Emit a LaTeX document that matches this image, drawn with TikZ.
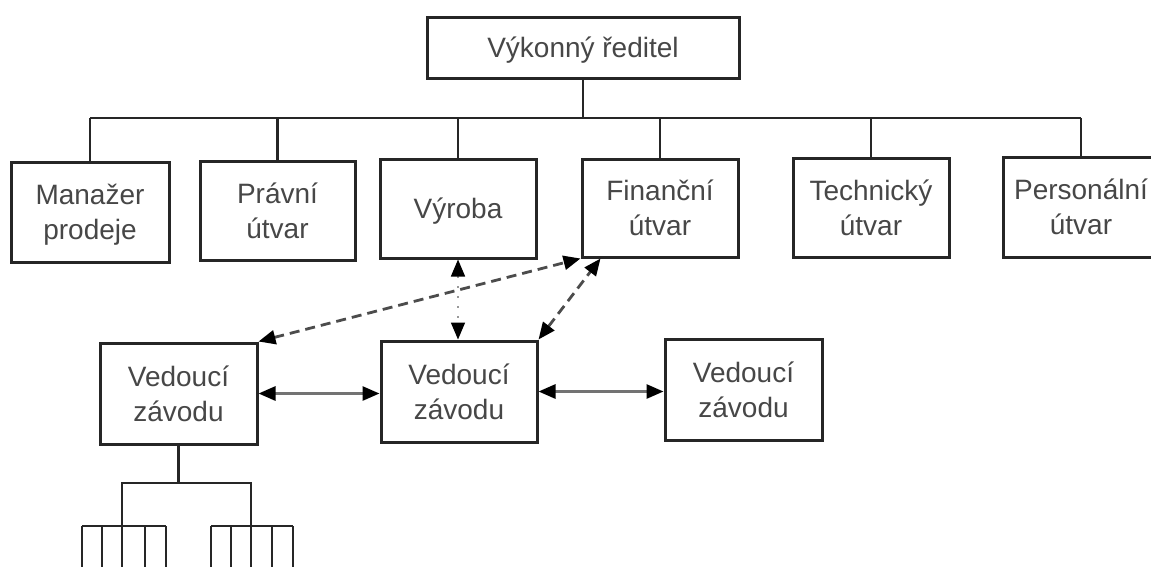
\documentclass[tikz,border=0pt]{standalone}
\usepackage{fontspec}
\setmainfont{Liberation Sans}
\usetikzlibrary{arrows.meta}
\begin{document}
\begin{tikzpicture}[x=1pt,y=-1pt,
  >={Triangle[length=17pt,width=14pt,color=black]},
  unit/.style={draw=black!85, line width=3pt, fill=white, align=center,
    inner sep=0pt, text depth=0pt, font=\fontsize{28}{35}\selectfont, text=black!72},
  link/.style={line width=2.6pt, draw=black!85},
  dashlink/.style={line width=2.8pt, draw=black!70, dash pattern=on 10pt off 6pt, <->},
  dotlink/.style={line width=1.6pt, draw=black!40, dash pattern=on 2pt off 8pt, <->},
  peerlink/.style={line width=2.8pt, draw=black!55, <->}]
  \clip (0,0) rectangle (1151,566);
  \fill[white] (0,0) rectangle (1151,566);

  % top of the hierarchy
  \node[unit, minimum width=312, minimum height=61] (ceo) at (583,47.5) {Výkonný ředitel};

  % departments
  \node[unit, minimum width=158, minimum height=100] (sales) at (90,212)    {Manažer\\prodeje};
  \node[unit, minimum width=155, minimum height=99]  (legal) at (277.5,210.5) {Právní\\útvar};
  \node[unit, minimum width=156, minimum height=99]  (prod)  at (458,208.5)  {Výroba};
  \node[unit, minimum width=156, minimum height=98]  (fin)   at (660,208)    {Finanční\\útvar};
  \node[unit, minimum width=156, minimum height=99]  (tech)  at (871,207.5)  {Technický\\útvar};
  \node[unit, minimum width=156, minimum height=100] (hr)    at (1081,207)   {Personální\\útvar};

  % plant managers
  \node[unit, minimum width=157, minimum height=101] (pm1) at (178.5,393.5) {Vedoucí\\závodu};
  \node[unit, minimum width=156, minimum height=101] (pm2) at (459,391.5)   {Vedoucí\\závodu};
  \node[unit, minimum width=157, minimum height=101] (pm3) at (743.5,389.5) {Vedoucí\\závodu};

  % tree from the director to the departments
  \coordinate (bar) at (583,118);
  \draw[link] (ceo.south) -- (ceo.south |- bar);
  \draw[link] (sales.north |- bar) -- (hr.north |- bar);
  \foreach \d in {sales,legal,prod,fin,tech,hr}
    \draw[link] (\d.north) -- (\d.north |- bar);

  % cross links
  \draw[dotlink] (prod.south) -- (prod.south |- pm2.north);
  \draw[dashlink] (pm1.north east) -- (fin.south west);
  \draw[dashlink] (pm2.north east) -- ([xshift=20pt]fin.south west);
  \draw[peerlink] (pm1.east) -- (pm1.east -| pm2.west);
  \draw[peerlink] (pm2.east) -- (pm2.east -| pm3.west);

  % subordinate tree below the first plant manager
  \coordinate (sub) at (179,483);
  \coordinate (ga) at (122,526);
  \coordinate (gb) at (251,526);
  \draw[link] (pm1.south) -- (pm1.south |- sub);
  \draw[link] (ga) |- (sub) -| (gb);
  \draw[link] (82,526) -- (166,526);
  \draw[link] (211,526) -- (293,526);
  \foreach \x in {82,102,122,145,166,211,231,251,272,293}
    \draw[link] (\x,526) -- (\x,570);
\end{tikzpicture}
\end{document}
